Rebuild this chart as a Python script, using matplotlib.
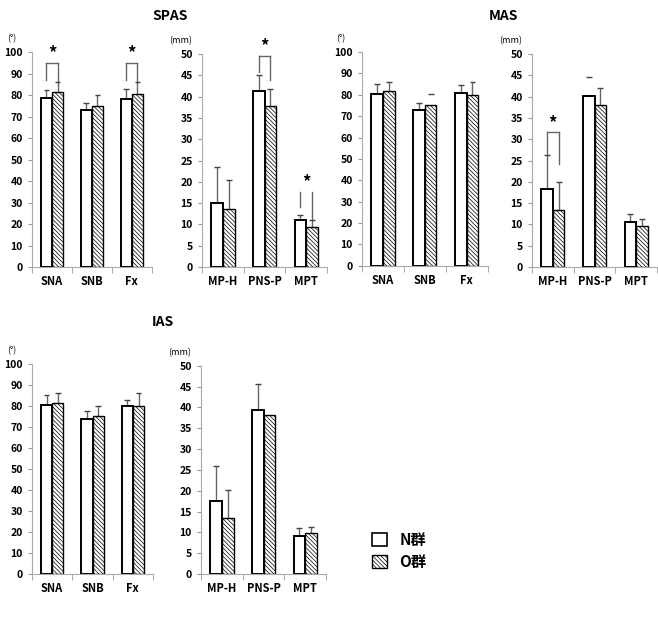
import matplotlib.pyplot as plt
from matplotlib.patches import Patch

plt.rcParams['font.family'] = ['Noto Sans CJK JP', 'DejaVu Sans']
plt.rcParams['hatch.color'] = '#555555'
plt.rcParams['hatch.linewidth'] = 0.5

deg_cats = ['SNA', 'SNB', 'Fx']
mm_cats = ['MP-H', 'PNS-P', 'MPT']

# means and upper end of the error bars, N group / O group
spas_deg_n = [78.5, 73.0, 78.2]
spas_deg_n_top = [82.5, 76.5, 83.0]
spas_deg_o = [81.5, 75.0, 80.5]
spas_deg_o_top = [86.0, 80.0, 86.0]

spas_mm_n = [15.1, 41.3, 11.0]
spas_mm_n_top = [23.5, 45.0, 12.3]
spas_mm_o = [13.7, 37.7, 9.4]
spas_mm_o_top = [20.4, 41.7, 11.0]

mas_deg_n = [80.5, 72.8, 81.0]
mas_deg_n_top = [85.0, 76.0, 84.5]
mas_deg_o = [81.7, 75.2, 80.0]
mas_deg_o_top = [86.0, 80.3, 86.0]

mas_mm_n = [18.3, 40.2, 10.5]
mas_mm_n_top = [26.3, 44.5, 12.4]
mas_mm_o = [13.5, 38.0, 9.7]
mas_mm_o_top = [20.0, 42.0, 11.3]

ias_deg_n = [80.6, 74.0, 80.0]
ias_deg_n_top = [85.0, 77.5, 83.0]
ias_deg_o = [81.5, 75.0, 80.0]
ias_deg_o_top = [86.0, 80.0, 86.0]

ias_mm_n = [17.5, 39.5, 9.2]
ias_mm_n_top = [26.0, 45.6, 11.0]
ias_mm_o = [13.5, 38.2, 9.8]
ias_mm_o_top = [20.3, 38.2, 11.4]

# error bars drawn as cap only (stem not visible in the source)
mas_deg_cap_only = [False, True, False]
mas_mm_cap_only = [False, True, False]

# significance marks: (category, top, left leg end, right leg end, with top line)
spas_deg_sig = [(0, 95, 87, 86, True), (2, 95, 87, 86, True)]
spas_mm_sig = [(1, 49.6, 45.8, 44.0, True), (2, 17.6, 14.1, 11.2, False)]
mas_mm_sig = [(0, 31.6, 26.3, 24.1, True)]

W = 0.28
ERR = '#666666'
HATCH = '\\' * 8


def panel(rect, cats, n, n_top, o, o_top, ymax, step, unit, sig=(),
          n_cap=(False,) * 3, o_cap=(False,) * 3):
    ax = fig.add_axes(rect)
    xs = range(len(cats))
    xn = [x - W / 2 for x in xs]
    xo = [x + W / 2 for x in xs]
    ax.bar(xn, n, W, color='white', edgecolor='black', linewidth=1.4, zorder=2)
    ax.bar(xo, o, W, color='white', edgecolor='black', linewidth=1.0,
           hatch=HATCH, zorder=2)
    for xb, m, t, cap in list(zip(xn, n, n_top, n_cap)) + list(zip(xo, o, o_top, o_cap)):
        if t > m and not cap:
            ax.vlines(xb, m, t, color=ERR, lw=1.0, zorder=1)
        if t > m or cap:
            ax.hlines(t, xb - W / 4, xb + W / 4, color='#444444', lw=1.0, zorder=3)
    for c, top, lb, rb, bar in sig:
        l, r = c - W / 2, c + W / 2
        ax.plot([l, l], [lb, top], color=ERR, lw=1.0, clip_on=False)
        ax.plot([r, r], [rb, top], color=ERR, lw=1.0, clip_on=False)
        if bar:
            ax.plot([l, r], [top, top], color=ERR, lw=1.0, clip_on=False)
        ax.text(c, top + ymax * 0.002, '*', ha='center', va='bottom',
                fontsize=12, fontweight='bold', clip_on=False)
    ax.set_xlim(-0.5, len(cats) - 0.5)
    ax.set_ylim(0, ymax)
    ax.set_yticks(range(0, ymax + 1, step))
    ax.set_xticks(list(xs))
    ax.set_xticklabels(cats, fontsize=8, fontweight='bold')
    ax.set_xticks([x - 0.5 for x in range(len(cats) + 1)], minor=True)
    ax.tick_params(axis='x', which='major', length=0, pad=6)
    ax.tick_params(axis='x', which='minor', length=4, color='#999999')
    ax.tick_params(axis='y', length=3, color='#999999', labelsize=7.5)
    for lab in ax.get_yticklabels():
        lab.set_fontweight('bold')
    for s in ['top', 'right']:
        ax.spines[s].set_visible(False)
    for s in ['left', 'bottom']:
        ax.spines[s].set_color('#aaaaaa')
    ax.text(-0.17, 1.04, unit, transform=ax.transAxes, fontsize=6.5,
            ha='center', va='bottom')
    return ax


fig = plt.figure(figsize=(6.58, 6.27), dpi=100)

panel([0.0486, 0.574, 0.182, 0.343], deg_cats, spas_deg_n, spas_deg_n_top,
      spas_deg_o, spas_deg_o_top, 100, 10, '(°)', spas_deg_sig)
panel([0.307, 0.574, 0.19, 0.340], mm_cats, spas_mm_n, spas_mm_n_top,
      spas_mm_o, spas_mm_o_top, 50, 5, '(mm)', spas_mm_sig)
panel([0.550, 0.576, 0.191, 0.341], deg_cats, mas_deg_n, mas_deg_n_top,
      mas_deg_o, mas_deg_o_top, 100, 10, '(°)', o_cap=mas_deg_cap_only)
panel([0.8085, 0.574, 0.19, 0.340], mm_cats, mas_mm_n, mas_mm_n_top,
      mas_mm_o, mas_mm_o_top, 50, 5, '(mm)', mas_mm_sig, n_cap=mas_mm_cap_only)
panel([0.0486, 0.0845, 0.184, 0.335], deg_cats, ias_deg_n, ias_deg_n_top,
      ias_deg_o, ias_deg_o_top, 100, 10, '(°)')
panel([0.3055, 0.0845, 0.19, 0.332], mm_cats, ias_mm_n, ias_mm_n_top,
      ias_mm_o, ias_mm_o_top, 50, 5, '(mm)')

fig.text(170 / 658, 1 - 16 / 627, 'SPAS', ha='center', va='center',
         fontsize=10, fontweight='bold')
fig.text(503 / 658, 1 - 16 / 627, 'MAS', ha='center', va='center',
         fontsize=10, fontweight='bold')
fig.text(163 / 658, 1 - 322 / 627, 'IAS', ha='center', va='center',
         fontsize=10, fontweight='bold')

handles = [Patch(facecolor='white', edgecolor='black', linewidth=1.2),
           Patch(facecolor='white', edgecolor='black', linewidth=1.0,
                 hatch=HATCH)]
fig.legend(handles, ['N群', 'O群'], loc='upper left', frameon=False,
           bbox_to_anchor=(358 / 658, 1 - 518 / 627), handlelength=1.0,
           handleheight=1.0, handletextpad=0.8, labelspacing=0.4,
           prop={'size': 11, 'weight': 'bold'})

fig.savefig('out.png', dpi=100)
